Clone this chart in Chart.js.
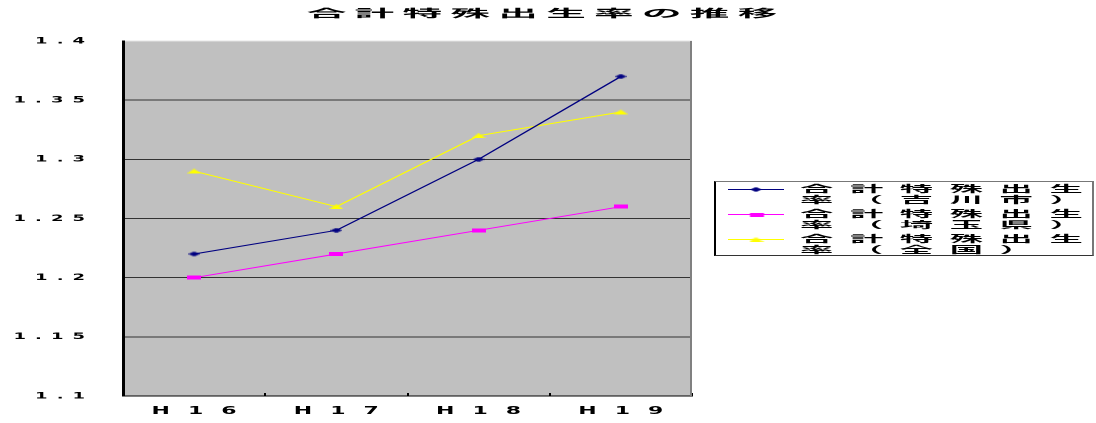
<!DOCTYPE html>
<html lang="ja">
<head>
<meta charset="utf-8">
<script src="https://cdn.jsdelivr.net/npm/chart.js@4.4.0/dist/chart.umd.min.js"></script>
<style>
  html, body { margin: 0; padding: 0; background: #fff; overflow: hidden; }
  /* the original picture is stretched 2x sideways, so the whole chart is drawn at half width */
  #wrap { position: absolute; left: 0; top: 0; width: 548px; height: 423px; transform: scaleX(2); transform-origin: 0 0; }
  #legend { position: absolute; left: 356.5px; top: 181px; width: 190px; height: 75px; box-sizing: border-box;
            border: 1px solid #777; border-left-color: #000; border-bottom-color: #333; background: #fff; }
  .item { position: absolute; left: 0; width: 188px; height: 24px; }
  .item canvas { position: absolute; left: 6.5px; top: 2.2px; }
  .item span { position: absolute; left: 42px; top: 0; width: 90px; font: bold 9.5px "Noto Sans CJK JP", sans-serif;
               line-height: 11px; letter-spacing: 4.75px; word-break: break-all; color: #000;
               transform: scaleX(1.75); transform-origin: 0 0; }
</style>
</head>
<body>
<div id="wrap">
  <canvas id="chart"></canvas>
  <div id="legend"></div>
</div>
<script>
const TITLE = "合計特殊出生率の推移";
const categories = ["H16", "H17", "H18", "H19"];
const seriesNames = ["合計特殊出生率（吉川市）", "合計特殊出生率（埼玉県）", "合計特殊出生率（全国）"];
const yoshikawa = [1.22, 1.24, 1.30, 1.37];
const saitama = [1.20, 1.22, 1.24, 1.26];
const zenkoku = [1.29, 1.26, 1.32, 1.34];
const yMin = 1.1, yMax = 1.4, yStep = 0.05;

// little marker pictures (diamond / flat square / triangle like the old Excel chart)
function makeMarker(shape, color, w, h) {
  const c = document.createElement("canvas");
  c.width = w; c.height = h;
  const g = c.getContext("2d");
  g.fillStyle = color;
  g.beginPath();
  if (shape === "diamond") {
    g.moveTo(w / 2, 0); g.lineTo(w, h / 2); g.lineTo(w / 2, h); g.lineTo(0, h / 2);
  } else if (shape === "triangle") {
    g.moveTo(w / 2, 0); g.lineTo(w, h); g.lineTo(0, h);
  } else {
    g.rect(0, 0, w, h);
  }
  g.closePath();
  g.fill();
  return c;
}

const colors = ["#000080", "#ff00ff", "#ffff00"];
const markers = [
  makeMarker("diamond", colors[0], 6, 5),
  makeMarker("rect", colors[1], 7, 4),
  makeMarker("triangle", colors[2], 7, 5)
];
const values = [yoshikawa, saitama, zenkoku];

const datasets = values.map((v, i) => ({
  label: seriesNames[i],
  data: v,
  borderColor: colors[i],
  backgroundColor: colors[i],
  borderWidth: 1,
  pointStyle: markers[i],
  pointRadius: 3,
  tension: 0
}));

const Y_SPACING = 4.5, X_SPACING = 9;

// letter spacing for the wide tick labels (x labels are drawn after the datasets, see ticks.z)
const spacing = {
  id: "spacing",
  beforeUpdate(chart) { chart.ctx.letterSpacing = Y_SPACING + "px"; },
  beforeDraw(chart) { chart.ctx.letterSpacing = Y_SPACING + "px"; },
  afterDatasetsDraw(chart) { chart.ctx.letterSpacing = X_SPACING + "px"; }
};

const plotBg = {
  id: "plotBg",
  beforeDraw(chart) {
    const { ctx, chartArea: a } = chart;
    ctx.save();
    ctx.fillStyle = "#c0c0c0";
    ctx.fillRect(a.left, a.top, a.right - a.left, a.bottom - a.top);
    ctx.restore();
  },
  afterDraw(chart) {
    const { ctx, chartArea: a } = chart;
    ctx.save();
    ctx.strokeStyle = "#808080";
    ctx.lineWidth = 1;
    ctx.beginPath();
    ctx.moveTo(a.right - 0.5, a.top);
    ctx.lineTo(a.right - 0.5, a.bottom);
    ctx.stroke();
    // title
    ctx.letterSpacing = "2.3px";
    ctx.font = 'bold 11px "Noto Sans CJK JP", sans-serif';
    ctx.fillStyle = "#000";
    ctx.textAlign = "center";
    ctx.textBaseline = "middle";
    ctx.translate(271, 13);
    ctx.scale(1.8, 1);
    ctx.fillText(TITLE, 1.15, 0);
    ctx.restore();
  }
};

new Chart(document.getElementById("chart"), {
  type: "line",
  data: { labels: categories, datasets },
  options: {
    responsive: true,
    maintainAspectRatio: false,
    animation: false,
    devicePixelRatio: 2,
    layout: { padding: { top: 41, right: 202, bottom: 6, left: 0 } },
    plugins: { legend: { display: false }, title: { display: false }, tooltip: { enabled: false } },
    scales: {
      x: {
        offset: true,
        afterFit(scale) { scale.height = 21; },
        grid: { offset: true, drawOnChartArea: false, drawTicks: true, tickLength: -3, color: "#000" },
        border: { color: "#000", width: 1 },
        ticks: {
          z: 1,
          color: "#000",
          padding: 11.5,
          labelOffset: X_SPACING / 2,
          font: { family: "DejaVu Sans", size: 11, weight: "bold" }
        }
      },
      y: {
        min: yMin,
        max: yMax,
        afterFit(scale) { scale.width = 61.5; },
        grid: {
          drawTicks: false,
          color: (c) => (c.tick && Math.abs(c.tick.value - yMax) < 1e-6 ? "#e4e4e4" : "#333"),
          lineWidth: 1
        },
        border: { color: "#000", width: 1.5 },
        ticks: {
          stepSize: yStep,
          padding: 14.5,
          color: "#000",
          font: { family: "DejaVu Sans", size: 9, weight: "bold" },
          callback: (v) => String(Number(v.toFixed(2)))
        }
      }
    }
  },
  plugins: [spacing, plotBg]
});

// legend: two-line wrapped names with a line + marker sample
const legend = document.getElementById("legend");
seriesNames.forEach((name, i) => {
  const item = document.createElement("div");
  item.className = "item";
  item.style.top = (0.5 + i * 25.3) + "px";
  const sample = document.createElement("canvas");
  sample.width = 28; sample.height = 9;
  const g = sample.getContext("2d");
  g.strokeStyle = colors[i];
  g.lineWidth = 1;
  g.beginPath(); g.moveTo(0, 4.5); g.lineTo(28, 4.5); g.stroke();
  g.drawImage(markers[i], 14 - markers[i].width / 2, 4.5 - markers[i].height / 2);
  const txt = document.createElement("span");
  txt.textContent = name;
  item.appendChild(sample);
  item.appendChild(txt);
  legend.appendChild(item);
});
</script>
</body>
</html>
